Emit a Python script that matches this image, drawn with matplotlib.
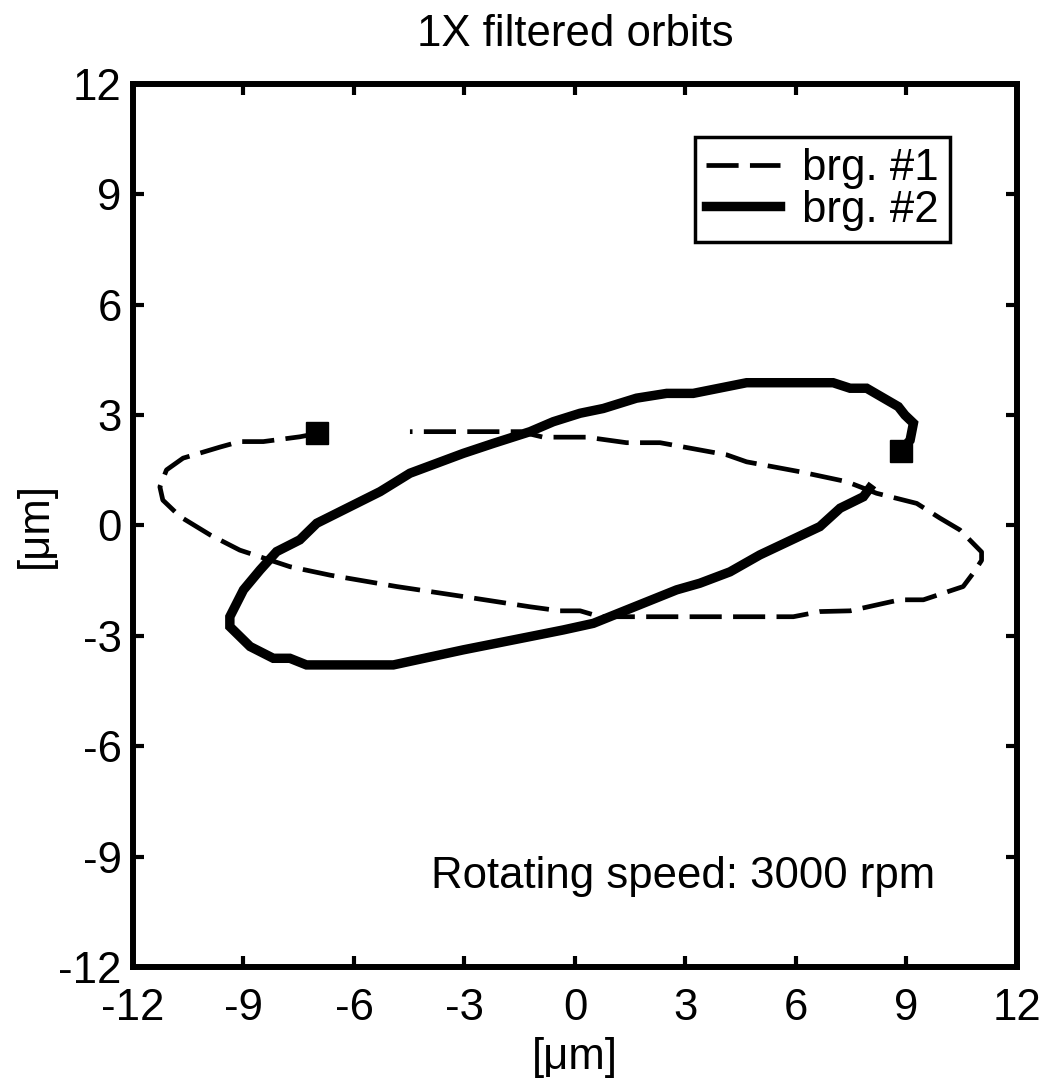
import matplotlib
matplotlib.use('Agg')
import matplotlib.pyplot as plt

plt.rcParams['font.family'] = ['Liberation Sans', 'DejaVu Sans']

# brg. #1 orbit (dashed), starts at the square marker
x1 = [-7.0, -7.47, -8.46, -9.1, -9.64, -10.64, -11.09, -11.27, -11.19, -10.72,
      -9.9, -9.1, -7.74, -6.65, -4.84, -3.04, -1.22, -0.41, 0.14, 0.68,
      5.93, 6.65, 7.47, 8.82, 9.46, 10.54, 10.81, 11.04, 11.04, 10.45,
      9.91, 9.28, 8.19, 7.38, 6.11, 4.66, 4.12, 2.31, 1.40, 0.32,
      -0.86, -1.49, -4.48]
y1 = [2.5, 2.41, 2.28, 2.28, 2.13, 1.83, 1.51, 1.05, 0.69, 0.24,
      -0.26, -0.67, -1.12, -1.35, -1.66, -1.93, -2.21, -2.32, -2.32, -2.48,
      -2.48, -2.34, -2.32, -2.02, -2.02, -1.66, -1.30, -0.95, -0.72, -0.12,
      0.20, 0.60, 0.875, 1.19, 1.46, 1.73, 1.92, 2.25, 2.25, 2.40,
      2.40, 2.55, 2.55]

# brg. #2 orbit (solid)
x2 = [8.85, 9.1, 9.19, 8.96, 8.78, 7.92, 7.47, 7.01, 4.66, 3.21,
      2.49, 1.67, 0.77, 0.14, -0.59, -1.22, -2.22, -3.03, -4.48, -5.29,
      -7.01, -7.47, -8.1, -8.55, -9.0, -9.37, -9.37, -8.82, -8.19, -7.74,
      -7.29, -4.93, -3.03, -1.22, -0.32, 0.5, 2.76, 3.39, 4.21, 5.02,
      6.65, 7.2, 7.83, 8.0]
y2 = [2.03, 2.32, 2.78, 3.0, 3.23, 3.73, 3.73, 3.88, 3.88, 3.59,
      3.59, 3.46, 3.18, 3.05, 2.82, 2.55, 2.23, 1.96, 1.42, 0.92,
      0.06, -0.39, -0.71, -1.21, -1.75, -2.48, -2.75, -3.29, -3.61, -3.61,
      -3.79, -3.79, -3.38, -3.02, -2.84, -2.66, -1.75, -1.57, -1.26, -0.80,
      -0.03, 0.47, 0.78, 1.01]

ticks = [-12, -9, -6, -3, 0, 3, 6, 9, 12]
fs = 31.5

fig = plt.figure(figsize=(10.43, 10.82), dpi=100)
ax = fig.add_axes([0.1275, 0.1063, 0.8475, 0.8161])

ax.plot(x1, y1, color='black', lw=3.4, dashes=[6.8, 2.4], dash_capstyle='butt',
        label='brg. #1')
ax.plot(x2, y2, color='black', lw=6.8, solid_joinstyle='miter', label='brg. #2')
ax.plot(x1[0], y1[0], 's', color='black', ms=16)
ax.plot(x2[0], y2[0], 's', color='black', ms=16)

ax.set_xlim(-12, 12)
ax.set_ylim(-12, 12)
ax.set_xticks(ticks)
ax.set_yticks(ticks)
ax.set_xticklabels([str(t) for t in ticks])
ax.set_yticklabels([str(t) for t in ticks])
ax.tick_params(direction='in', length=8, width=3, labelsize=fs,
               top=True, right=True)
ax.tick_params(axis='x', pad=15)
ax.tick_params(axis='y', pad=8)
for s in ax.spines.values():
    s.set_linewidth(4.3)

ax.set_title('1X filtered orbits', fontsize=fs, pad=27)
ax.set_xlabel('[μm]', fontsize=fs, labelpad=6)
ax.set_ylabel('[μm]', fontsize=fs, labelpad=2)

ax.text(-3.9, -9.85, 'Rotating speed: 3000 rpm', fontsize=fs, va='baseline')

leg = ax.legend(loc='upper right', bbox_to_anchor=(0.924, 0.940), borderaxespad=0,
                fontsize=fs, handlelength=1.7, handletextpad=0.5,
                labelspacing=0.02, borderpad=0.25, fancybox=False,
                edgecolor='black', framealpha=1)
leg.get_frame().set_linewidth(2.5)

fig.savefig('out.png', dpi=100)
